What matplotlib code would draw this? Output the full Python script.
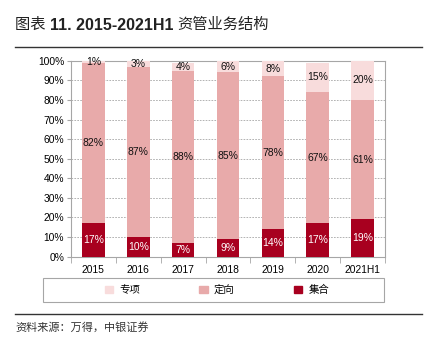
import matplotlib
matplotlib.use("Agg")
import matplotlib.pyplot as plt
import numpy as np
from matplotlib.lines import Line2D
from matplotlib.patches import Rectangle

plt.rcParams['font.family'] = ['Liberation Sans', 'Noto Sans CJK SC']

# ---------------------------------------------------------------------
# DATA
# ---------------------------------------------------------------------
years = ["2015", "2016", "2017", "2018", "2019", "2020", "2021H1"]
jihe = [17, 10, 7, 9, 14, 17, 19]        # 集合
dingxiang = [82, 87, 88, 85, 78, 67, 61]  # 定向
zhuanxiang = [1, 3, 4, 6, 8, 15, 20]      # 专项

C_DARK = "#A8001F"
C_MID = "#E8AAAA"
C_LIGHT = "#F8DCDC"
GRID = "#A6A6A6"

W, H = 427, 344
fig = plt.figure(figsize=(4.27, 3.44), dpi=100)
ax = fig.add_axes([0.1663, 0.2538, 0.7353, 0.5697])

x = np.arange(len(years))
w = 0.5
ax.bar(x, jihe, w, color=C_DARK, zorder=3)
ax.bar(x, dingxiang, w, bottom=jihe, color=C_MID, zorder=3)
bot3 = np.array(jihe) + np.array(dingxiang)
ax.bar(x, zhuanxiang, w, bottom=bot3, color=C_LIGHT, zorder=3)

for i in range(len(years)):
    ax.text(x[i], jihe[i] / 2, f"{jihe[i]}%", ha="center", va="center",
            color="white", fontsize=7.5, zorder=4)
    ax.text(x[i], jihe[i] + dingxiang[i] / 2, f"{dingxiang[i]}%", ha="center",
            va="center", color="#111111", fontsize=7.5, zorder=4)
    ax.text(x[i], bot3[i] + zhuanxiang[i] / 2, f"{zhuanxiang[i]}%", ha="center",
            va="center", color="#111111", fontsize=7.5, zorder=4)

ax.set_xlim(-0.5, len(years) - 0.5)
ax.set_ylim(0, 100)
ax.set_yticks(np.arange(0, 101, 10))
ax.set_yticklabels([f"{v}%" for v in range(0, 101, 10)], fontsize=7.4)
ax.set_xticks(x)
ax.set_xticklabels(years, fontsize=7.4)
ax.set_xticks(np.arange(-0.5, len(years), 1), minor=True)
ax.tick_params(axis="x", which="major", length=0, pad=6)
ax.tick_params(axis="x", which="minor", length=4, color=GRID, direction="out")
ax.tick_params(axis="y", length=3, color=GRID, pad=2)
ax.grid(axis="y", color=GRID, linestyle=(0, (2, 1.5)), linewidth=0.6, zorder=0)
for s in ax.spines.values():
    s.set_color(GRID)
    s.set_linewidth(0.8)

# legend with a wide frame drawn separately
fig.add_artist(Rectangle((43 / W, 1 - 302 / H), 341 / W, 24 / H,
                         transform=fig.transFigure, fill=False,
                         edgecolor=GRID, linewidth=0.8))
handles = [
    plt.Rectangle((0, 0), 1, 1, color=C_LIGHT),
    plt.Rectangle((0, 0), 1, 1, color=C_MID),
    plt.Rectangle((0, 0), 1, 1, color=C_DARK),
]
fig.legend(handles, ["专项", "定向", "集合"], ncol=3, loc="center",
           bbox_to_anchor=(0.508, 1 - 290 / H), bbox_transform=fig.transFigure,
           fontsize=7.5, frameon=False, handlelength=0.8, handleheight=0.8,
           columnspacing=5.7, handletextpad=0.6)

# title pieces (mixed weights)
fig.canvas.draw()
r = fig.canvas.get_renderer()
xpos = 15 / W
ty = 1 - 25 / H
for txt, wt, fs in [("图表 ", "normal", 11), ("11. 2015-2021H1 ", "bold", 11.5),
                    ("资管业务结构", "normal", 11)]:
    t = fig.text(xpos, ty, txt, fontsize=fs, fontweight=wt, va="center", ha="left",
                 color="#222222")
    bb = t.get_window_extent(renderer=r)
    xpos += bb.width / fig.bbox.width

fig.add_artist(Line2D([15 / W, 422 / W], [1 - 47 / H, 1 - 47 / H],
                      color="#333333", linewidth=1.0))
fig.add_artist(Line2D([15 / W, 422 / W], [1 - 313.7 / H, 1 - 313.7 / H],
                      color="#333333", linewidth=1.0))
fig.text(15 / W, 1 - 327 / H, "资料来源：万得，中银证券", fontsize=8,
         va="center", ha="left", color="#333333", style="italic")

fig.savefig("out.png", dpi=100)
